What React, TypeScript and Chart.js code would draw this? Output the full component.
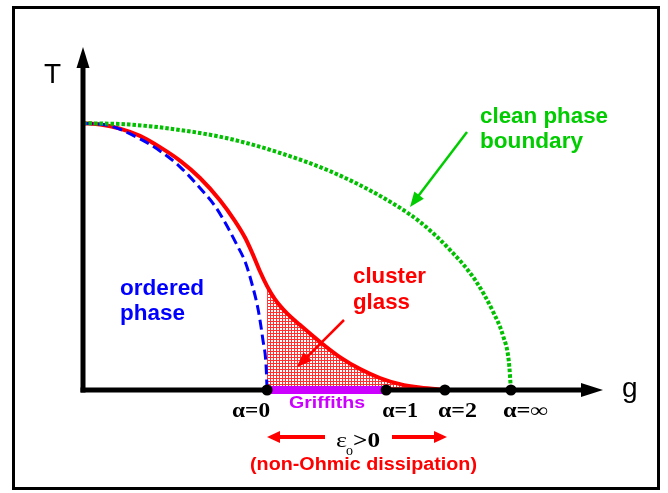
import React, { useEffect, useRef } from "react";
import { Chart, registerables } from "chart.js";

Chart.register(...registerables);

// ---- data (g in arbitrary units 0..100, T in arbitrary units 0..100) ----
const redG = [0, 3.3, 7.1, 10.96, 14.8, 18.7, 22.5, 26.3, 29.2, 31.2, 32.7, 34.0, 35.4, 36.9, 39.2, 41.7, 45.6, 49.4, 53.3, 57.1, 60.96, 64.8, 70.0];
const redT = [77.8, 77.4, 76.2, 74.1, 70.8, 66.8, 61.8, 55.4, 49.3, 44.3, 39.4, 34.7, 30.3, 26.5, 22.4, 19.0, 14.0, 9.6, 6.1, 3.5, 1.7, 0.7, 0];

const blueG = [0, 5.2, 10.96, 14.8, 18.7, 22.5, 25.4, 27.7, 29.6, 31.2, 32.5, 33.7, 34.6, 35.2, 35.4];
const blueT = [77.8, 77.0, 73.2, 69.7, 65.0, 58.9, 53.6, 47.8, 42.3, 37.3, 30.9, 23.3, 14.6, 7.3, 0];

const greenG = [0, 9.0, 18.7, 28.3, 37.9, 47.5, 57.1, 64.8, 70.6, 75.4, 78.8, 80.8, 81.9, 82.3];
const greenT = [77.8, 77.4, 75.8, 73.2, 69.1, 63.8, 56.6, 49.0, 40.8, 32.1, 23.0, 15.7, 8.2, 0];

const alphaG = [35.4, 58.3, 69.6, 82.3];
const alphaLabels = ["α=0", "α=1", "α=2", "α=∞"];
const griffithsRange = [35.4, 58.3];

const SANS = '"Liberation Sans", Arial, Helvetica, sans-serif';
const SERIF = '"Liberation Serif", "Times New Roman", serif';

function pts(g: number[], t: number[]) {
  return g.map((v, i) => ({ x: v, y: t[i] }));
}

function drawText(
  ctx: CanvasRenderingContext2D,
  text: string,
  x: number,
  y: number,
  font: string,
  color: string,
  targetWidth?: number
) {
  ctx.save();
  ctx.font = font;
  ctx.fillStyle = color;
  ctx.textAlign = "left";
  ctx.textBaseline = "alphabetic";
  const w = ctx.measureText(text).width;
  const s = targetWidth ? targetWidth / w : 1;
  ctx.translate(x, y);
  ctx.scale(s, 1);
  ctx.fillText(text, 0, 0);
  ctx.restore();
}

function drawArrow(
  ctx: CanvasRenderingContext2D,
  x1: number,
  y1: number,
  x2: number,
  y2: number,
  color: string,
  lw: number,
  headLen: number,
  headHalf: number
) {
  const ang = Math.atan2(y2 - y1, x2 - x1);
  const bx = x2 - headLen * Math.cos(ang);
  const by = y2 - headLen * Math.sin(ang);
  ctx.save();
  ctx.strokeStyle = color;
  ctx.fillStyle = color;
  ctx.lineWidth = lw;
  ctx.lineCap = "butt";
  ctx.beginPath();
  ctx.moveTo(x1, y1);
  ctx.lineTo(bx + Math.cos(ang), by + Math.sin(ang));
  ctx.stroke();
  ctx.beginPath();
  ctx.moveTo(x2, y2);
  ctx.lineTo(bx - headHalf * Math.sin(ang), by + headHalf * Math.cos(ang));
  ctx.lineTo(bx + headHalf * Math.sin(ang), by - headHalf * Math.cos(ang));
  ctx.closePath();
  ctx.fill();
  ctx.restore();
}

const overlay = {
  id: "overlay",
  afterDatasetsDraw(chart: any) {
    const { ctx, chartArea } = chart;
    const xs = chart.scales.x;
    const ys = chart.scales.y;
    const x0 = xs.getPixelForValue(0);
    const y0 = ys.getPixelForValue(0);
    ctx.save();

    // frame
    ctx.strokeStyle = "#000";
    ctx.lineWidth = 3;
    ctx.strokeRect(13.5, 7.5, 645, 481);

    // axes
    ctx.lineWidth = 5;
    ctx.lineCap = "butt";
    ctx.beginPath();
    ctx.moveTo(x0, y0 + 2.5);
    ctx.lineTo(x0, chartArea.top + 16);
    ctx.stroke();
    ctx.beginPath();
    ctx.moveTo(x0 - 2.5, y0);
    ctx.lineTo(chartArea.right - 16, y0);
    ctx.stroke();
    ctx.fillStyle = "#000";
    ctx.beginPath();
    ctx.moveTo(x0, chartArea.top);
    ctx.lineTo(x0 - 6.5, chartArea.top + 21);
    ctx.lineTo(x0 + 6.5, chartArea.top + 21);
    ctx.closePath();
    ctx.fill();
    ctx.beginPath();
    ctx.moveTo(chartArea.right, y0);
    ctx.lineTo(chartArea.right - 22, y0 - 7);
    ctx.lineTo(chartArea.right - 22, y0 + 7);
    ctx.closePath();
    ctx.fill();

    // Griffiths bar
    ctx.strokeStyle = "#cc00ff";
    ctx.lineWidth = 8;
    ctx.beginPath();
    ctx.moveTo(xs.getPixelForValue(griffithsRange[0]), y0);
    ctx.lineTo(xs.getPixelForValue(griffithsRange[1]), y0);
    ctx.stroke();

    // alpha dots and labels
    const offs = [-35, -4, -7, -8];
    const widths = [38, 36, 39, 45];
    alphaG.forEach((g, i) => {
      const px = xs.getPixelForValue(g);
      ctx.fillStyle = "#000";
      ctx.beginPath();
      ctx.arc(px, y0, 5.5, 0, Math.PI * 2);
      ctx.fill();
      drawText(ctx, alphaLabels[i], px + offs[i], 417, `bold 20px ${SERIF}`, "#000", widths[i]);
    });

    // axis titles
    drawText(ctx, "T", 44, 83, `28px ${SANS}`, "#000");
    drawText(ctx, "g", 622, 397, `28px ${SANS}`, "#000");

    // region labels
    drawText(ctx, "ordered", 120, 295, `bold 22px ${SANS}`, "#0000ff", 84);
    drawText(ctx, "phase", 120, 320, `bold 22px ${SANS}`, "#0000ff", 65);
    drawText(ctx, "cluster", 353, 283, `bold 22px ${SANS}`, "#ff0000", 73);
    drawText(ctx, "glass", 353, 309, `bold 22px ${SANS}`, "#ff0000", 57);
    drawText(ctx, "clean phase", 480, 123, `bold 22px ${SANS}`, "#00cc00", 128);
    drawText(ctx, "boundary", 480, 148, `bold 22px ${SANS}`, "#00cc00", 103);
    drawText(ctx, "Griffiths", 289, 408, `bold 17px ${SANS}`, "#cc00ff", 76);
    drawText(ctx, "(non-Ohmic dissipation)", 250, 470, `bold 18px ${SANS}`, "#ff0000", 227);

    // epsilon label
    drawText(ctx, "ε", 336, 447, `22px ${SERIF}`, "#000", 11);
    drawText(ctx, "o", 346, 455, `14px ${SERIF}`, "#000", 7);
    drawText(ctx, ">0", 353, 447, `bold 21px ${SERIF}`, "#000", 27);

    // arrows
    drawArrow(ctx, 325, 437, 267, 437, "#ff0000", 4, 13, 6);
    drawArrow(ctx, 392, 437, 447, 437, "#ff0000", 4, 13, 6);
    drawArrow(ctx, 467, 132, 410, 207, "#00cc00", 2.5, 15, 6);
    drawArrow(ctx, 344, 320, 297, 367, "#ff0000", 2.5, 15, 6);

    ctx.restore();
  },
};

export default function App() {
  const ref = useRef<HTMLCanvasElement | null>(null);

  useEffect(() => {
    const canvas = ref.current;
    if (!canvas) return;

    // dotted grid fill pattern for the cluster-glass region
    const tile = document.createElement("canvas");
    tile.width = 3;
    tile.height = 3;
    const tctx = tile.getContext("2d")!;
    tctx.fillStyle = "#ff3030";
    tctx.fillRect(0, 0, 3, 3);
    tctx.fillStyle = "#ffffff";
    tctx.fillRect(1, 1, 2, 2);
    const pattern = canvas.getContext("2d")!.createPattern(tile, "repeat");

    const fillPts = pts(redG, redT).filter((p) => p.x >= alphaG[0]);

    const chart = new Chart(canvas, {
      type: "line",
      data: {
        datasets: [
          {
            label: "clean phase boundary",
            data: pts(greenG, greenT),
            borderColor: "#00c000",
            borderWidth: 4,
            borderDash: [3.5, 2],
            cubicInterpolationMode: "monotone",
            pointRadius: 0,
            fill: false,
          },
          {
            label: "ordered",
            data: pts(blueG, blueT),
            borderColor: "#0000ff",
            borderWidth: 3,
            borderDash: [10, 5],
            cubicInterpolationMode: "monotone",
            pointRadius: 0,
            fill: false,
          },
          {
            label: "cluster glass boundary",
            data: pts(redG, redT),
            borderColor: "#ff0000",
            borderWidth: 4,
            cubicInterpolationMode: "monotone",
            pointRadius: 0,
            fill: false,
          },
          {
            label: "cluster glass",
            data: fillPts,
            borderWidth: 0,
            borderColor: "rgba(0,0,0,0)",
            backgroundColor: pattern as any,
            cubicInterpolationMode: "monotone",
            pointRadius: 0,
            fill: "origin",
          },
        ],
      },
      options: {
        animation: false,
        responsive: false,
        devicePixelRatio: 1,
        layout: { padding: { left: 83, right: 65, top: 47, bottom: 103 } },
        scales: {
          x: { type: "linear", min: 0, max: 100, display: false },
          y: { type: "linear", min: 0, max: 100, display: false },
        },
        plugins: { legend: { display: false }, tooltip: { enabled: false } },
        elements: { point: { radius: 0 } },
      },
      plugins: [overlay],
    });
    return () => chart.destroy();
  }, []);

  return (
    <div style={{ position: "absolute", left: 0, top: 0, width: 668, height: 493, background: "#fff" }}>
      <canvas ref={ref} width={668} height={493} style={{ display: "block", width: 668, height: 493 }} />
    </div>
  );
}
